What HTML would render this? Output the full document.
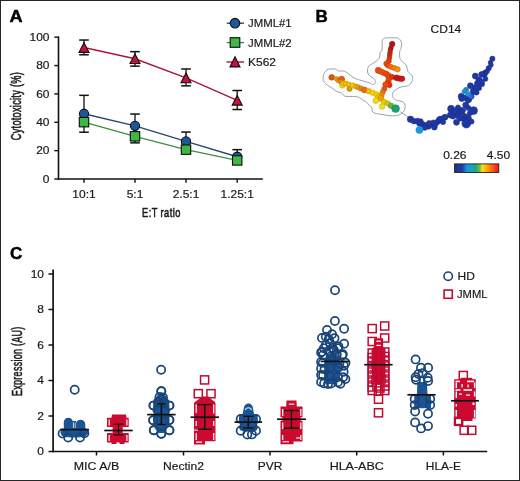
<!DOCTYPE html>
<html><head><meta charset="utf-8"><style>
html,body{margin:0;padding:0;background:#fff;}
svg{display:block;will-change:transform;}
text{font-family:"Liberation Sans", sans-serif;}
</style></head><body>
<svg width="520" height="481" viewBox="0 0 520 481">
<rect width="520" height="481" fill="#fff"/>
<path d="M382.20,41.00 C382.45,39.13 382.87,39.30 383.50,38.80 C384.13,38.30 383.82,38.15 386.00,38.00 C388.18,37.85 394.27,37.62 396.60,37.90 C398.93,38.18 399.17,38.87 400.00,39.70 C400.83,40.53 401.43,41.43 401.60,42.90 C401.77,44.37 401.32,47.05 401.00,48.50 C400.68,49.95 399.87,49.93 399.70,51.60 C399.53,53.27 399.47,56.73 400.00,58.50 C400.53,60.27 401.82,61.03 402.90,62.20 C403.98,63.37 405.67,63.97 406.50,65.50 C407.33,67.03 407.03,69.80 407.90,71.40 C408.77,73.00 410.92,73.78 411.70,75.10 C412.48,76.42 412.83,77.82 412.60,79.30 C412.37,80.78 411.15,82.90 410.30,84.00 C409.45,85.10 409.22,85.35 407.50,85.90 C405.78,86.45 402.03,86.60 400.00,87.30 C397.97,88.00 396.52,89.08 395.30,90.10 C394.08,91.12 393.08,92.17 392.70,93.40 C392.32,94.63 392.37,96.37 393.00,97.50 C393.63,98.63 394.95,99.52 396.50,100.20 C398.05,100.88 400.93,100.97 402.30,101.60 C403.67,102.23 404.30,102.63 404.70,104.00 C405.10,105.37 405.27,108.20 404.70,109.80 C404.13,111.40 402.67,112.63 401.30,113.60 C399.93,114.57 398.58,115.27 396.50,115.60 C394.42,115.93 391.05,115.77 388.80,115.60 C386.55,115.43 385.08,114.93 383.00,114.60 C380.92,114.27 378.05,114.08 376.30,113.60 C374.55,113.12 373.22,112.58 372.50,111.70 C371.78,110.82 372.48,109.33 372.00,108.30 C371.52,107.27 370.63,106.62 369.60,105.50 C368.57,104.38 367.03,102.58 365.80,101.60 C364.57,100.62 363.20,100.25 362.20,99.60 C361.20,98.95 360.97,98.22 359.80,97.70 C358.63,97.18 356.87,96.70 355.20,96.50 C353.53,96.30 351.53,96.55 349.80,96.50 C348.07,96.45 346.20,96.77 344.80,96.20 C343.40,95.63 342.80,93.92 341.40,93.10 C340.00,92.28 337.97,92.15 336.40,91.30 C334.83,90.45 333.58,89.08 332.00,88.00 C330.42,86.92 328.35,86.07 326.90,84.80 C325.45,83.53 323.85,82.12 323.30,80.40 C322.75,78.68 323.23,75.98 323.60,74.50 C323.97,73.02 324.77,72.37 325.50,71.50 C326.23,70.63 326.30,69.70 328.00,69.30 C329.70,68.90 334.00,68.83 335.70,69.10 C337.40,69.37 336.73,70.55 338.20,70.90 C339.67,71.25 342.70,70.65 344.50,71.20 C346.30,71.75 347.58,73.18 349.00,74.20 C350.42,75.22 351.45,76.40 353.00,77.30 C354.55,78.20 356.43,78.94 358.30,79.60 C360.17,80.26 362.32,80.70 364.20,81.25 C366.08,81.80 368.15,82.34 369.60,82.90 C371.05,83.46 371.93,84.73 372.90,84.60 C373.87,84.47 375.18,83.07 375.40,82.10 C375.62,81.12 375.17,79.80 374.20,78.75 C373.23,77.70 370.72,76.92 369.60,75.80 C368.48,74.67 367.72,73.52 367.50,72.00 C367.28,70.48 367.60,68.00 368.30,66.70 C369.00,65.40 370.30,65.18 371.70,64.20 C373.10,63.22 375.38,61.92 376.70,60.80 C378.02,59.68 379.05,58.88 379.60,57.50 C380.15,56.12 379.60,53.75 380.00,52.50 C380.40,51.25 381.63,51.92 382.00,50.00 C382.37,48.08 381.95,42.87 382.20,41.00 Z" fill="#fcfdff" stroke="#9a9da6" stroke-width="0.95"/>
<line x1="400.5" y1="111.8" x2="409" y2="117.5" stroke="#9a9da6" stroke-width="0.95"/>
<circle cx="392.2" cy="44.1" r="2.75" fill="#b80f22" stroke="#930c1b" stroke-width="0.6"/>
<circle cx="391" cy="47.9" r="2.35" fill="#b01a12" stroke="#8c140e" stroke-width="0.6"/>
<circle cx="390.4" cy="50" r="2.35" fill="#b82010" stroke="#93190c" stroke-width="0.6"/>
<circle cx="390" cy="52.9" r="2.35" fill="#c02a10" stroke="#99210c" stroke-width="0.6"/>
<circle cx="389.7" cy="55" r="2.35" fill="#c83010" stroke="#a0260c" stroke-width="0.6"/>
<circle cx="389.4" cy="57.9" r="2.35" fill="#d03810" stroke="#a62c0c" stroke-width="0.6"/>
<circle cx="388.8" cy="61" r="2.55" fill="#e04010" stroke="#b3330c" stroke-width="0.6"/>
<circle cx="386.5" cy="63.8" r="2.75" fill="#f04a08" stroke="#c03b06" stroke-width="0.6"/>
<circle cx="388" cy="65.5" r="2.55" fill="#f04a08" stroke="#c03b06" stroke-width="0.6"/>
<circle cx="391" cy="66.9" r="2.55" fill="#f07010" stroke="#c0590c" stroke-width="0.6"/>
<circle cx="394.3" cy="68" r="2.55" fill="#f08010" stroke="#c0660c" stroke-width="0.6"/>
<circle cx="397.5" cy="69.3" r="2.75" fill="#ef9018" stroke="#bf7313" stroke-width="0.6"/>
<circle cx="378.3" cy="70.4" r="3.05" fill="#f04810" stroke="#c0390c" stroke-width="0.6"/>
<circle cx="381" cy="71.6" r="2.75" fill="#f05010" stroke="#c0400c" stroke-width="0.6"/>
<circle cx="383.5" cy="72.7" r="2.75" fill="#f05010" stroke="#c0400c" stroke-width="0.6"/>
<circle cx="386.2" cy="73.8" r="2.75" fill="#f04a08" stroke="#c03b06" stroke-width="0.6"/>
<circle cx="388.2" cy="75.4" r="2.85" fill="#f04808" stroke="#c03906" stroke-width="0.6"/>
<circle cx="389" cy="77.7" r="2.85" fill="#f04808" stroke="#c03906" stroke-width="0.6"/>
<circle cx="392" cy="76.9" r="2.55" fill="#e03510" stroke="#b32a0c" stroke-width="0.6"/>
<circle cx="388.5" cy="80.8" r="2.75" fill="#f04808" stroke="#c03906" stroke-width="0.6"/>
<circle cx="387.8" cy="83.1" r="2.75" fill="#f04000" stroke="#c03300" stroke-width="0.6"/>
<circle cx="389.3" cy="85" r="2.75" fill="#e83008" stroke="#b92606" stroke-width="0.6"/>
<circle cx="385.5" cy="84.5" r="2.75" fill="#f04a00" stroke="#c03b00" stroke-width="0.6"/>
<circle cx="396.5" cy="77.8" r="2.85" fill="#c01818" stroke="#991313" stroke-width="0.6"/>
<circle cx="399.5" cy="78.6" r="2.75" fill="#c81a14" stroke="#a01410" stroke-width="0.6"/>
<circle cx="402" cy="78.7" r="2.75" fill="#c81a14" stroke="#a01410" stroke-width="0.6"/>
<circle cx="384.3" cy="88.9" r="2.55" fill="#e85010" stroke="#b9400c" stroke-width="0.6"/>
<circle cx="382.8" cy="92" r="2.55" fill="#f07010" stroke="#c0590c" stroke-width="0.6"/>
<circle cx="381.6" cy="95.1" r="2.55" fill="#f09010" stroke="#c0730c" stroke-width="0.6"/>
<circle cx="331.7" cy="77.3" r="2.85" fill="#d85a10" stroke="#ac480c" stroke-width="0.6"/>
<circle cx="336.6" cy="78.9" r="2.35" fill="#e8a020" stroke="#b98019" stroke-width="0.6"/>
<circle cx="338.3" cy="80.4" r="2.35" fill="#f09010" stroke="#c0730c" stroke-width="0.6"/>
<circle cx="341.6" cy="79.2" r="3.05" fill="#e06008" stroke="#b34c06" stroke-width="0.6"/>
<circle cx="341" cy="81.8" r="2.55" fill="#f08010" stroke="#c0660c" stroke-width="0.6"/>
<circle cx="342.3" cy="85.3" r="2.85" fill="#f0d810" stroke="#c0ac0c" stroke-width="0.6"/>
<circle cx="343.5" cy="83.5" r="2.55" fill="#f0c010" stroke="#c0990c" stroke-width="0.6"/>
<circle cx="346" cy="83.6" r="2.55" fill="#f0c000" stroke="#c09900" stroke-width="0.6"/>
<circle cx="349" cy="84.6" r="2.55" fill="#f0c000" stroke="#c09900" stroke-width="0.6"/>
<circle cx="349.5" cy="88.8" r="2.65" fill="#d0a010" stroke="#a6800c" stroke-width="0.6"/>
<circle cx="352.9" cy="85.4" r="2.55" fill="#f0d000" stroke="#c0a600" stroke-width="0.6"/>
<circle cx="356" cy="86.5" r="2.55" fill="#f0b010" stroke="#c08c0c" stroke-width="0.6"/>
<circle cx="358.3" cy="87.3" r="2.55" fill="#f0a010" stroke="#c0800c" stroke-width="0.6"/>
<circle cx="361" cy="88.5" r="2.55" fill="#f08010" stroke="#c0660c" stroke-width="0.6"/>
<circle cx="364.5" cy="89.9" r="2.95" fill="#e87010" stroke="#b9590c" stroke-width="0.6"/>
<circle cx="368.9" cy="91.2" r="2.65" fill="#f8c000" stroke="#c69900" stroke-width="0.6"/>
<circle cx="372.8" cy="92.8" r="2.65" fill="#f8d200" stroke="#c6a800" stroke-width="0.6"/>
<circle cx="376.6" cy="94.3" r="2.65" fill="#f8d000" stroke="#c6a600" stroke-width="0.6"/>
<circle cx="378.2" cy="97.4" r="2.75" fill="#f8c400" stroke="#c69c00" stroke-width="0.6"/>
<circle cx="380.8" cy="98.2" r="3.05" fill="#f0a000" stroke="#c08000" stroke-width="0.6"/>
<circle cx="375.8" cy="100.6" r="2.85" fill="#f0e000" stroke="#c0b300" stroke-width="0.6"/>
<circle cx="384" cy="102" r="2.75" fill="#e8d000" stroke="#b9a600" stroke-width="0.6"/>
<circle cx="387.6" cy="103.3" r="2.65" fill="#c8c820" stroke="#a0a019" stroke-width="0.6"/>
<circle cx="382.1" cy="106.6" r="2.75" fill="#f0e010" stroke="#c0b30c" stroke-width="0.6"/>
<circle cx="391" cy="105.8" r="2.75" fill="#70b040" stroke="#598c33" stroke-width="0.6"/>
<circle cx="395.6" cy="108.6" r="3.85" fill="#1fa070" stroke="#188059" stroke-width="0.6"/>
<circle cx="492.4" cy="58.7" r="2.6" fill="#2039a2" stroke="#1b2f8c" stroke-width="0.6"/>
<circle cx="490.5" cy="62.5" r="2.3" fill="#2039a2" stroke="#1b2f8c" stroke-width="0.6"/>
<circle cx="491" cy="65" r="2.3" fill="#2039a2" stroke="#1b2f8c" stroke-width="0.6"/>
<circle cx="488.7" cy="68.2" r="2.6" fill="#2039a2" stroke="#1b2f8c" stroke-width="0.6"/>
<circle cx="487" cy="71.5" r="2.4" fill="#2039a2" stroke="#1b2f8c" stroke-width="0.6"/>
<circle cx="485" cy="72.5" r="2.5" fill="#2039a2" stroke="#1b2f8c" stroke-width="0.6"/>
<circle cx="479" cy="88" r="2.6" fill="#2039a2" stroke="#1b2f8c" stroke-width="0.6"/>
<circle cx="482" cy="84" r="2.6" fill="#2039a2" stroke="#1b2f8c" stroke-width="0.6"/>
<circle cx="485.5" cy="79" r="2.4" fill="#2039a2" stroke="#1b2f8c" stroke-width="0.6"/>
<circle cx="476.5" cy="92.5" r="2.6" fill="#2039a2" stroke="#1b2f8c" stroke-width="0.6"/>
<circle cx="484.5" cy="74.5" r="2.8" fill="#2039a2" stroke="#1b2f8c" stroke-width="0.6"/>
<circle cx="481.7" cy="74.4" r="3" fill="#2039a2" stroke="#1b2f8c" stroke-width="0.6"/>
<circle cx="475.3" cy="76.1" r="3" fill="#2039a2" stroke="#1b2f8c" stroke-width="0.6"/>
<circle cx="478.9" cy="80" r="3" fill="#2039a2" stroke="#1b2f8c" stroke-width="0.6"/>
<circle cx="481.7" cy="81.5" r="2.6" fill="#2039a2" stroke="#1b2f8c" stroke-width="0.6"/>
<circle cx="477.4" cy="83.5" r="3" fill="#2039a2" stroke="#1b2f8c" stroke-width="0.6"/>
<circle cx="470.4" cy="85.7" r="3" fill="#2039a2" stroke="#1b2f8c" stroke-width="0.6"/>
<circle cx="475.3" cy="87.8" r="3" fill="#2039a2" stroke="#1b2f8c" stroke-width="0.6"/>
<circle cx="473.2" cy="91.3" r="3" fill="#2039a2" stroke="#1b2f8c" stroke-width="0.6"/>
<circle cx="461.2" cy="96.3" r="3" fill="#2039a2" stroke="#1b2f8c" stroke-width="0.6"/>
<circle cx="471.1" cy="96.3" r="3" fill="#2039a2" stroke="#1b2f8c" stroke-width="0.6"/>
<circle cx="466.1" cy="97.7" r="3" fill="#2039a2" stroke="#1b2f8c" stroke-width="0.6"/>
<circle cx="469" cy="99.5" r="2.8" fill="#2039a2" stroke="#1b2f8c" stroke-width="0.6"/>
<circle cx="461.8" cy="98.6" r="3" fill="#2039a2" stroke="#1b2f8c" stroke-width="0.6"/>
<circle cx="468" cy="100.5" r="2.5" fill="#2039a2" stroke="#1b2f8c" stroke-width="0.6"/>
<circle cx="465.7" cy="105" r="3" fill="#2039a2" stroke="#1b2f8c" stroke-width="0.6"/>
<circle cx="468.4" cy="108" r="2.6" fill="#2039a2" stroke="#1b2f8c" stroke-width="0.6"/>
<circle cx="473.6" cy="110.6" r="3.9" fill="#2039a2" stroke="#1b2f8c" stroke-width="0.6"/>
<circle cx="460.3" cy="110.4" r="3" fill="#2039a2" stroke="#1b2f8c" stroke-width="0.6"/>
<circle cx="451.1" cy="108.8" r="3.5" fill="#2039a2" stroke="#1b2f8c" stroke-width="0.6"/>
<circle cx="456.5" cy="113.8" r="3.5" fill="#2039a2" stroke="#1b2f8c" stroke-width="0.6"/>
<circle cx="462.6" cy="115" r="3" fill="#2039a2" stroke="#1b2f8c" stroke-width="0.6"/>
<circle cx="466.5" cy="116.5" r="2.6" fill="#2039a2" stroke="#1b2f8c" stroke-width="0.6"/>
<circle cx="468.8" cy="118" r="2.6" fill="#2039a2" stroke="#1b2f8c" stroke-width="0.6"/>
<circle cx="464.2" cy="119.6" r="2.6" fill="#2039a2" stroke="#1b2f8c" stroke-width="0.6"/>
<circle cx="456.5" cy="122.3" r="3" fill="#2039a2" stroke="#1b2f8c" stroke-width="0.6"/>
<circle cx="466.3" cy="123.6" r="4.4" fill="#2039a2" stroke="#1b2f8c" stroke-width="0.6"/>
<circle cx="450.3" cy="115" r="3" fill="#2039a2" stroke="#1b2f8c" stroke-width="0.6"/>
<circle cx="444.9" cy="117.3" r="3" fill="#2039a2" stroke="#1b2f8c" stroke-width="0.6"/>
<circle cx="439.5" cy="119.6" r="3" fill="#2039a2" stroke="#1b2f8c" stroke-width="0.6"/>
<circle cx="453" cy="116.5" r="2.6" fill="#2039a2" stroke="#1b2f8c" stroke-width="0.6"/>
<circle cx="458" cy="116" r="2.8" fill="#2039a2" stroke="#1b2f8c" stroke-width="0.6"/>
<circle cx="460.5" cy="118.5" r="2.6" fill="#2039a2" stroke="#1b2f8c" stroke-width="0.6"/>
<circle cx="463" cy="110" r="2.6" fill="#2039a2" stroke="#1b2f8c" stroke-width="0.6"/>
<circle cx="470" cy="113" r="2.6" fill="#2039a2" stroke="#1b2f8c" stroke-width="0.6"/>
<circle cx="458" cy="107.5" r="2.6" fill="#2039a2" stroke="#1b2f8c" stroke-width="0.6"/>
<circle cx="454" cy="111" r="3" fill="#2039a2" stroke="#1b2f8c" stroke-width="0.6"/>
<circle cx="471.5" cy="121.5" r="2.6" fill="#2039a2" stroke="#1b2f8c" stroke-width="0.6"/>
<circle cx="410.5" cy="119.3" r="3.2" fill="#2039a2" stroke="#1b2f8c" stroke-width="0.6"/>
<circle cx="414" cy="121.2" r="2.8" fill="#2039a2" stroke="#1b2f8c" stroke-width="0.6"/>
<circle cx="417.5" cy="121" r="2.8" fill="#2039a2" stroke="#1b2f8c" stroke-width="0.6"/>
<circle cx="420.5" cy="121.5" r="2.8" fill="#2039a2" stroke="#1b2f8c" stroke-width="0.6"/>
<circle cx="419.4" cy="123.5" r="2.8" fill="#2039a2" stroke="#1b2f8c" stroke-width="0.6"/>
<circle cx="423" cy="124.5" r="2.8" fill="#2039a2" stroke="#1b2f8c" stroke-width="0.6"/>
<circle cx="426" cy="125.5" r="2.8" fill="#2039a2" stroke="#1b2f8c" stroke-width="0.6"/>
<circle cx="428.5" cy="126.5" r="2.8" fill="#2039a2" stroke="#1b2f8c" stroke-width="0.6"/>
<circle cx="431" cy="124" r="3.0" fill="#2039a2" stroke="#1b2f8c" stroke-width="0.6"/>
<circle cx="434.4" cy="127.3" r="2.8" fill="#2039a2" stroke="#1b2f8c" stroke-width="0.6"/>
<circle cx="435.5" cy="123.8" r="2.8" fill="#2039a2" stroke="#1b2f8c" stroke-width="0.6"/>
<circle cx="438" cy="121.5" r="2.8" fill="#2039a2" stroke="#1b2f8c" stroke-width="0.6"/>
<circle cx="441.3" cy="119.2" r="3.2" fill="#2039a2" stroke="#1b2f8c" stroke-width="0.6"/>
<circle cx="422.5" cy="126.5" r="2.6" fill="#2039a2" stroke="#1b2f8c" stroke-width="0.6"/>
<circle cx="424.8" cy="127.7" r="2.6" fill="#2039a2" stroke="#1b2f8c" stroke-width="0.6"/>
<circle cx="433.5" cy="122.5" r="2.6" fill="#2039a2" stroke="#1b2f8c" stroke-width="0.6"/>
<circle cx="429" cy="123" r="2.5" fill="#2039a2" stroke="#1b2f8c" stroke-width="0.6"/>
<circle cx="443" cy="122" r="2.6" fill="#2039a2" stroke="#1b2f8c" stroke-width="0.6"/>
<circle cx="466.1" cy="89.9" r="2.8" fill="#2080c8"/>
<circle cx="464.4" cy="91.6" r="2.6" fill="#1a92c0"/>
<circle cx="468.3" cy="94.1" r="2.6" fill="#2a8ae0"/>
<circle cx="471" cy="96.5" r="2.3" fill="#2a70d0"/>
<circle cx="419.4" cy="130" r="3.8" fill="#1a98e0"/>
<defs><linearGradient id="jet" x1="0" x2="1" y1="0" y2="0"><stop offset="0" stop-color="#1f2f8f"/><stop offset="0.18" stop-color="#22409f"/><stop offset="0.27" stop-color="#1c8ee0"/><stop offset="0.36" stop-color="#17a6c0"/><stop offset="0.47" stop-color="#1aa58c"/><stop offset="0.56" stop-color="#6cb84a"/><stop offset="0.63" stop-color="#f5e21e"/><stop offset="0.72" stop-color="#ffad08"/><stop offset="0.84" stop-color="#fb6a12"/><stop offset="0.95" stop-color="#ef2a1e"/><stop offset="1" stop-color="#e02020"/></linearGradient></defs>
<rect x="454.6" y="163.9" width="44.2" height="8.6" fill="url(#jet)" stroke="#222" stroke-width="0.9"/>
<text transform="translate(430.6,32.6) scale(1.13,1)" font-size="10.6" font-weight="400" text-anchor="start" fill="#1a1a1a" stroke="#1a1a1a" stroke-width="0.18">CD14</text>
<text transform="translate(443.2,158.6) scale(1.13,1)" font-size="10.6" font-weight="400" text-anchor="start" fill="#1a1a1a" stroke="#1a1a1a" stroke-width="0.18">0.26</text>
<text transform="translate(486.8,158.6) scale(1.13,1)" font-size="10.6" font-weight="400" text-anchor="start" fill="#1a1a1a" stroke="#1a1a1a" stroke-width="0.18">4.50</text>
<rect x="0.5" y="0.5" width="519" height="480" fill="none" stroke="#262626" stroke-width="1"/>
<text transform="translate(9.4,21.8) scale(1.07,1)" font-size="17" font-weight="700" text-anchor="start" fill="#000" stroke="#000" stroke-width="0.45" letter-spacing="0">A</text>
<text transform="translate(315.6,21.8) scale(1.0,1)" font-size="17" font-weight="700" text-anchor="start" fill="#000" stroke="#000" stroke-width="0.45" letter-spacing="0">B</text>
<text transform="translate(10.1,258.8) scale(1.0,1)" font-size="17" font-weight="700" text-anchor="start" fill="#000" stroke="#000" stroke-width="0.45" letter-spacing="0">C</text>
<line x1="58.5" y1="36.400000000000006" x2="58.5" y2="179.8" stroke="#111" stroke-width="1.6" stroke-linecap="butt"/>
<line x1="57.7" y1="179.0" x2="262.8" y2="179.0" stroke="#111" stroke-width="1.6" stroke-linecap="butt"/>
<line x1="54.3" y1="179.0" x2="58.5" y2="179.0" stroke="#111" stroke-width="1.4" stroke-linecap="butt"/>
<text transform="translate(49.5,182.7) scale(1.13,1)" font-size="10.6" font-weight="400" text-anchor="end" fill="#1a1a1a" stroke="#1a1a1a" stroke-width="0.18" letter-spacing="0">0</text>
<line x1="54.3" y1="150.64" x2="58.5" y2="150.64" stroke="#111" stroke-width="1.4" stroke-linecap="butt"/>
<text transform="translate(49.5,154.33999999999997) scale(1.13,1)" font-size="10.6" font-weight="400" text-anchor="end" fill="#1a1a1a" stroke="#1a1a1a" stroke-width="0.18" letter-spacing="0">20</text>
<line x1="54.3" y1="122.28" x2="58.5" y2="122.28" stroke="#111" stroke-width="1.4" stroke-linecap="butt"/>
<text transform="translate(49.5,125.98) scale(1.13,1)" font-size="10.6" font-weight="400" text-anchor="end" fill="#1a1a1a" stroke="#1a1a1a" stroke-width="0.18" letter-spacing="0">40</text>
<line x1="54.3" y1="93.92" x2="58.5" y2="93.92" stroke="#111" stroke-width="1.4" stroke-linecap="butt"/>
<text transform="translate(49.5,97.62) scale(1.13,1)" font-size="10.6" font-weight="400" text-anchor="end" fill="#1a1a1a" stroke="#1a1a1a" stroke-width="0.18" letter-spacing="0">60</text>
<line x1="54.3" y1="65.56" x2="58.5" y2="65.56" stroke="#111" stroke-width="1.4" stroke-linecap="butt"/>
<text transform="translate(49.5,69.26) scale(1.13,1)" font-size="10.6" font-weight="400" text-anchor="end" fill="#1a1a1a" stroke="#1a1a1a" stroke-width="0.18" letter-spacing="0">80</text>
<line x1="54.3" y1="37.19999999999999" x2="58.5" y2="37.19999999999999" stroke="#111" stroke-width="1.4" stroke-linecap="butt"/>
<text transform="translate(49.5,40.89999999999999) scale(1.13,1)" font-size="10.6" font-weight="400" text-anchor="end" fill="#1a1a1a" stroke="#1a1a1a" stroke-width="0.18" letter-spacing="0">100</text>
<line x1="84" y1="179.0" x2="84" y2="182.8" stroke="#111" stroke-width="1.4" stroke-linecap="butt"/>
<text transform="translate(84,197.6) scale(1.13,1)" font-size="10.6" font-weight="400" text-anchor="middle" fill="#1a1a1a" stroke="#1a1a1a" stroke-width="0.18" letter-spacing="0">10:1</text>
<line x1="135" y1="179.0" x2="135" y2="182.8" stroke="#111" stroke-width="1.4" stroke-linecap="butt"/>
<text transform="translate(135,197.6) scale(1.13,1)" font-size="10.6" font-weight="400" text-anchor="middle" fill="#1a1a1a" stroke="#1a1a1a" stroke-width="0.18" letter-spacing="0">5:1</text>
<line x1="186" y1="179.0" x2="186" y2="182.8" stroke="#111" stroke-width="1.4" stroke-linecap="butt"/>
<text transform="translate(186,197.6) scale(1.13,1)" font-size="10.6" font-weight="400" text-anchor="middle" fill="#1a1a1a" stroke="#1a1a1a" stroke-width="0.18" letter-spacing="0">2.5:1</text>
<line x1="237.2" y1="179.0" x2="237.2" y2="182.8" stroke="#111" stroke-width="1.4" stroke-linecap="butt"/>
<text transform="translate(237.2,197.6) scale(1.13,1)" font-size="10.6" font-weight="400" text-anchor="middle" fill="#1a1a1a" stroke="#1a1a1a" stroke-width="0.18" letter-spacing="0">1.25:1</text>
<text transform="translate(161.4,217.0) scale(0.73,1)" font-size="12.7" font-weight="400" text-anchor="middle" fill="#1a1a1a" stroke="#1a1a1a" stroke-width="0.6" letter-spacing="0.6">E:T ratio</text>
<text transform="translate(21.2,106.1) rotate(-90) scale(0.745,1.15)" font-size="12.4" font-weight="400" text-anchor="middle" fill="#1a1a1a" stroke="#1a1a1a" stroke-width="0.5" letter-spacing="0.35">Cytotoxicity (%)</text>
<line x1="84" y1="113.77199999999999" x2="84" y2="95.338" stroke="#111" stroke-width="1.3" stroke-linecap="butt"/>
<line x1="79.2" y1="95.338" x2="88.8" y2="95.338" stroke="#111" stroke-width="1.5" stroke-linecap="butt"/>
<line x1="84" y1="122.1382" x2="84" y2="132.206" stroke="#111" stroke-width="1.3" stroke-linecap="butt"/>
<line x1="79.2" y1="132.206" x2="88.8" y2="132.206" stroke="#111" stroke-width="1.5" stroke-linecap="butt"/>
<line x1="84" y1="47.5514" x2="84" y2="40.03599999999997" stroke="#111" stroke-width="1.3" stroke-linecap="butt"/>
<line x1="79.2" y1="40.03599999999997" x2="88.8" y2="40.03599999999997" stroke="#111" stroke-width="1.5" stroke-linecap="butt"/>
<line x1="84" y1="47.5514" x2="84" y2="54.783199999999994" stroke="#111" stroke-width="1.3" stroke-linecap="butt"/>
<line x1="79.2" y1="54.783199999999994" x2="88.8" y2="54.783199999999994" stroke="#111" stroke-width="1.5" stroke-linecap="butt"/>
<line x1="135" y1="125.825" x2="135" y2="114.0556" stroke="#111" stroke-width="1.3" stroke-linecap="butt"/>
<line x1="130.2" y1="114.0556" x2="139.8" y2="114.0556" stroke="#111" stroke-width="1.5" stroke-linecap="butt"/>
<line x1="135" y1="136.3182" x2="135" y2="142.841" stroke="#111" stroke-width="1.3" stroke-linecap="butt"/>
<line x1="130.2" y1="142.841" x2="139.8" y2="142.841" stroke="#111" stroke-width="1.5" stroke-linecap="butt"/>
<line x1="135" y1="58.75359999999999" x2="135" y2="51.66359999999999" stroke="#111" stroke-width="1.3" stroke-linecap="butt"/>
<line x1="130.2" y1="51.66359999999999" x2="139.8" y2="51.66359999999999" stroke="#111" stroke-width="1.5" stroke-linecap="butt"/>
<line x1="135" y1="58.75359999999999" x2="135" y2="66.12719999999999" stroke="#111" stroke-width="1.3" stroke-linecap="butt"/>
<line x1="130.2" y1="66.12719999999999" x2="139.8" y2="66.12719999999999" stroke="#111" stroke-width="1.5" stroke-linecap="butt"/>
<line x1="186" y1="141.423" x2="186" y2="132.0642" stroke="#111" stroke-width="1.3" stroke-linecap="butt"/>
<line x1="181.2" y1="132.0642" x2="190.8" y2="132.0642" stroke="#111" stroke-width="1.5" stroke-linecap="butt"/>
<line x1="186" y1="77.89659999999999" x2="186" y2="68.9632" stroke="#111" stroke-width="1.3" stroke-linecap="butt"/>
<line x1="181.2" y1="68.9632" x2="190.8" y2="68.9632" stroke="#111" stroke-width="1.5" stroke-linecap="butt"/>
<line x1="186" y1="77.89659999999999" x2="186" y2="85.83739999999997" stroke="#111" stroke-width="1.3" stroke-linecap="butt"/>
<line x1="181.2" y1="85.83739999999997" x2="190.8" y2="85.83739999999997" stroke="#111" stroke-width="1.5" stroke-linecap="butt"/>
<line x1="237.2" y1="156.7374" x2="237.2" y2="149.6474" stroke="#111" stroke-width="1.3" stroke-linecap="butt"/>
<line x1="232.39999999999998" y1="149.6474" x2="242.0" y2="149.6474" stroke="#111" stroke-width="1.5" stroke-linecap="butt"/>
<line x1="237.2" y1="100.30099999999999" x2="237.2" y2="90.5168" stroke="#111" stroke-width="1.3" stroke-linecap="butt"/>
<line x1="232.39999999999998" y1="90.5168" x2="242.0" y2="90.5168" stroke="#111" stroke-width="1.5" stroke-linecap="butt"/>
<line x1="237.2" y1="100.30099999999999" x2="237.2" y2="109.51799999999999" stroke="#111" stroke-width="1.3" stroke-linecap="butt"/>
<line x1="232.39999999999998" y1="109.51799999999999" x2="242.0" y2="109.51799999999999" stroke="#111" stroke-width="1.5" stroke-linecap="butt"/>
<polyline points="84,113.77 135,125.83 186,141.42 237.2,156.74" fill="none" stroke="#2b4868" stroke-width="1.4"/>
<polyline points="84,122.14 135,136.32 186,149.65 237.2,160.42" fill="none" stroke="#3f8f3f" stroke-width="1.4"/>
<polyline points="84,47.55 135,58.75 186,77.90 237.2,100.30" fill="none" stroke="#a8163c" stroke-width="1.4"/>
<circle cx="84" cy="113.77199999999999" r="4.6" fill="#1d5799" stroke="#0b0b14" stroke-width="1.1"/>
<circle cx="135" cy="125.825" r="4.6" fill="#1d5799" stroke="#0b0b14" stroke-width="1.1"/>
<circle cx="186" cy="141.423" r="4.6" fill="#1d5799" stroke="#0b0b14" stroke-width="1.1"/>
<circle cx="237.2" cy="156.7374" r="4.6" fill="#1d5799" stroke="#0b0b14" stroke-width="1.1"/>
<rect x="79.3" y="117.4382" width="9.4" height="9.4" fill="#3cb843" stroke="#0b0b14" stroke-width="1.1"/>
<rect x="130.3" y="131.6182" width="9.4" height="9.4" fill="#3cb843" stroke="#0b0b14" stroke-width="1.1"/>
<rect x="181.3" y="144.94740000000002" width="9.4" height="9.4" fill="#3cb843" stroke="#0b0b14" stroke-width="1.1"/>
<rect x="232.5" y="155.7242" width="9.4" height="9.4" fill="#3cb843" stroke="#0b0b14" stroke-width="1.1"/>
<path d="M84,42.751400000000004 L89.0,52.3514 L79.0,52.3514 Z" fill="#c8103a" stroke="#0b0b14" stroke-width="1.1" stroke-linejoin="miter"/>
<path d="M135,53.953599999999994 L140.0,63.55359999999999 L130.0,63.55359999999999 Z" fill="#c8103a" stroke="#0b0b14" stroke-width="1.1" stroke-linejoin="miter"/>
<path d="M186,73.0966 L191.0,82.69659999999999 L181.0,82.69659999999999 Z" fill="#c8103a" stroke="#0b0b14" stroke-width="1.1" stroke-linejoin="miter"/>
<path d="M237.2,95.50099999999999 L242.2,105.10099999999998 L232.2,105.10099999999998 Z" fill="#c8103a" stroke="#0b0b14" stroke-width="1.1" stroke-linejoin="miter"/>
<line x1="226.8" y1="23.2" x2="244" y2="23.2" stroke="#2b4868" stroke-width="1.4" stroke-linecap="butt"/>
<circle cx="235" cy="23.2" r="4.8" fill="#1d5799" stroke="#0b0b14" stroke-width="1.1"/>
<text transform="translate(248.0,27.0) scale(1.075,1)" font-size="10.6" font-weight="400" text-anchor="start" fill="#1a1a1a" stroke="#1a1a1a" stroke-width="0.18" letter-spacing="0">JMML#1</text>
<line x1="226.8" y1="42.6" x2="244" y2="42.6" stroke="#3f8f3f" stroke-width="1.4" stroke-linecap="butt"/>
<rect x="230.2" y="37.7" width="9.6" height="9.6" fill="#3cb843" stroke="#0b0b14" stroke-width="1.1"/>
<text transform="translate(248.0,46.5) scale(1.075,1)" font-size="10.6" font-weight="400" text-anchor="start" fill="#1a1a1a" stroke="#1a1a1a" stroke-width="0.18" letter-spacing="0">JMML#2</text>
<line x1="226.5" y1="62.0" x2="244" y2="62.0" stroke="#a8163c" stroke-width="1.4" stroke-linecap="butt"/>
<path d="M235,56.699999999999996 L240.0,66.89999999999999 L230.0,66.89999999999999 Z" fill="#c8103a" stroke="#0b0b14" stroke-width="1.1" stroke-linejoin="miter"/>
<text transform="translate(248.0,66.0) scale(1.13,1)" font-size="10.6" font-weight="400" text-anchor="start" fill="#1a1a1a" stroke="#1a1a1a" stroke-width="0.18" letter-spacing="0">K562</text>
<line x1="53.1" y1="269.5" x2="53.1" y2="452.3" stroke="#111" stroke-width="1.7" stroke-linecap="butt"/>
<line x1="52.300000000000004" y1="451.5" x2="487.2" y2="451.5" stroke="#111" stroke-width="1.7" stroke-linecap="butt"/>
<line x1="48.5" y1="451.5" x2="53.1" y2="451.5" stroke="#111" stroke-width="1.5" stroke-linecap="butt"/>
<text transform="translate(44.0,455.2) scale(1.13,1)" font-size="10.6" font-weight="400" text-anchor="end" fill="#1a1a1a" stroke="#1a1a1a" stroke-width="0.18">0</text>
<line x1="48.5" y1="416.0" x2="53.1" y2="416.0" stroke="#111" stroke-width="1.5" stroke-linecap="butt"/>
<text transform="translate(44.0,419.7) scale(1.13,1)" font-size="10.6" font-weight="400" text-anchor="end" fill="#1a1a1a" stroke="#1a1a1a" stroke-width="0.18">2</text>
<line x1="48.5" y1="380.5" x2="53.1" y2="380.5" stroke="#111" stroke-width="1.5" stroke-linecap="butt"/>
<text transform="translate(44.0,384.2) scale(1.13,1)" font-size="10.6" font-weight="400" text-anchor="end" fill="#1a1a1a" stroke="#1a1a1a" stroke-width="0.18">4</text>
<line x1="48.5" y1="345.0" x2="53.1" y2="345.0" stroke="#111" stroke-width="1.5" stroke-linecap="butt"/>
<text transform="translate(44.0,348.7) scale(1.13,1)" font-size="10.6" font-weight="400" text-anchor="end" fill="#1a1a1a" stroke="#1a1a1a" stroke-width="0.18">6</text>
<line x1="48.5" y1="309.5" x2="53.1" y2="309.5" stroke="#111" stroke-width="1.5" stroke-linecap="butt"/>
<text transform="translate(44.0,313.2) scale(1.13,1)" font-size="10.6" font-weight="400" text-anchor="end" fill="#1a1a1a" stroke="#1a1a1a" stroke-width="0.18">8</text>
<line x1="48.5" y1="274.0" x2="53.1" y2="274.0" stroke="#111" stroke-width="1.5" stroke-linecap="butt"/>
<text transform="translate(44.0,277.7) scale(1.13,1)" font-size="10.6" font-weight="400" text-anchor="end" fill="#1a1a1a" stroke="#1a1a1a" stroke-width="0.18">10</text>
<line x1="96.5" y1="451.5" x2="96.5" y2="455.5" stroke="#111" stroke-width="1.5" stroke-linecap="butt"/>
<text transform="translate(96.5,470.3) scale(1.17,1)" font-size="10.6" font-weight="400" text-anchor="middle" fill="#1a1a1a" stroke="#1a1a1a" stroke-width="0.18">MIC A/B</text>
<line x1="183.5" y1="451.5" x2="183.5" y2="455.5" stroke="#111" stroke-width="1.5" stroke-linecap="butt"/>
<text transform="translate(183.5,470.3) scale(1.14,1)" font-size="10.6" font-weight="400" text-anchor="middle" fill="#1a1a1a" stroke="#1a1a1a" stroke-width="0.18">Nectin2</text>
<line x1="270.0" y1="451.5" x2="270.0" y2="455.5" stroke="#111" stroke-width="1.5" stroke-linecap="butt"/>
<text transform="translate(270.0,470.3) scale(1.13,1)" font-size="10.6" font-weight="400" text-anchor="middle" fill="#1a1a1a" stroke="#1a1a1a" stroke-width="0.18">PVR</text>
<line x1="356.7" y1="451.5" x2="356.7" y2="455.5" stroke="#111" stroke-width="1.5" stroke-linecap="butt"/>
<text transform="translate(356.7,470.3) scale(1.18,1)" font-size="10.6" font-weight="400" text-anchor="middle" fill="#1a1a1a" stroke="#1a1a1a" stroke-width="0.18">HLA-ABC</text>
<line x1="443.4" y1="451.5" x2="443.4" y2="455.5" stroke="#111" stroke-width="1.5" stroke-linecap="butt"/>
<text transform="translate(443.4,470.3) scale(1.13,1)" font-size="10.6" font-weight="400" text-anchor="middle" fill="#1a1a1a" stroke="#1a1a1a" stroke-width="0.18">HLA-E</text>
<text transform="translate(22.0,361.2) rotate(-90) scale(0.728,1.15)" font-size="12.4" font-weight="400" letter-spacing="0.35" text-anchor="middle" fill="#1a1a1a" stroke="#1a1a1a" stroke-width="0.5">Expression (AU)</text>
<path d="M63.8,422.3 A4.55,4.55 0 0 1 72.9,422.3 L72.9,430 L63.8,430 Z" fill="#1b5494"/>
<path d="M75.8,424.4 A4.75,4.75 0 0 1 85.3,424.4 L85.3,430 L75.8,430 Z" fill="#1b5494"/>
<path d="M61,429 L88,429 L88.5,433 L86,436 L83,437 L77,437.5 L71,437.5 L65,437 L62,436 L60.5,433 Z" fill="#1b5494"/>
<circle cx="62.6" cy="433.4" r="4.1" fill="none" stroke="#1a4478" stroke-width="1.7"/>
<circle cx="68.2" cy="437.6" r="4.1" fill="none" stroke="#1a4478" stroke-width="1.7"/>
<circle cx="80.0" cy="437.6" r="4.1" fill="none" stroke="#1a4478" stroke-width="1.7"/>
<circle cx="84.4" cy="433.2" r="4.1" fill="none" stroke="#1a4478" stroke-width="1.7"/>
<circle cx="74.7" cy="389.7" r="4.1" fill="none" stroke="#1a4478" stroke-width="1.7"/>
<rect x="72.5" y="421" width="3.6" height="9" fill="#1b5494"/>
<rect x="73.3" y="422.5" width="0.8" height="5.5" fill="#fff"/>
<rect x="74.9" y="422.5" width="0.6" height="5.5" fill="#fff"/>
<circle cx="161.1" cy="369.7" r="4.1" fill="#fff" stroke="#1a4478" stroke-width="1.7"/>
<circle cx="161.3" cy="391.2" r="4.1" fill="#fff" stroke="#1a4478" stroke-width="1.7"/>
<circle cx="153.5" cy="405.6" r="4.1" fill="#fff" stroke="#1a4478" stroke-width="1.7"/>
<circle cx="169.4" cy="405.6" r="4.1" fill="#fff" stroke="#1a4478" stroke-width="1.7"/>
<circle cx="153.2" cy="420.3" r="4.1" fill="#fff" stroke="#1a4478" stroke-width="1.7"/>
<circle cx="169.4" cy="420.0" r="4.1" fill="#fff" stroke="#1a4478" stroke-width="1.7"/>
<circle cx="153.8" cy="430.3" r="4.1" fill="#fff" stroke="#1a4478" stroke-width="1.7"/>
<circle cx="169.4" cy="430.3" r="4.1" fill="#fff" stroke="#1a4478" stroke-width="1.7"/>
<circle cx="161.3" cy="433.7" r="4.1" fill="#fff" stroke="#1a4478" stroke-width="1.7"/>
<path d="M161.3,393.5 L165.5,395.5 L167.5,399 L169,402 L169.5,408 L168.5,413 L169.5,417 L169,426 L166,430 L164,433 L158.5,433 L156,430 L153.5,426 L153,417 L154,413 L153,408 L153.5,402 L155.2,399 L157.2,395.5 Z" fill="#1b5494"/>
<circle cx="161.3" cy="391.2" r="4.1" fill="none" stroke="#1a4478" stroke-width="1.7"/>
<circle cx="153.5" cy="405.6" r="4.1" fill="none" stroke="#1a4478" stroke-width="1.7"/>
<circle cx="169.4" cy="405.6" r="4.1" fill="none" stroke="#1a4478" stroke-width="1.7"/>
<circle cx="153.2" cy="420.3" r="4.1" fill="none" stroke="#1a4478" stroke-width="1.7"/>
<circle cx="169.4" cy="420.0" r="4.1" fill="none" stroke="#1a4478" stroke-width="1.7"/>
<circle cx="153.8" cy="430.3" r="4.1" fill="none" stroke="#1a4478" stroke-width="1.7"/>
<circle cx="169.4" cy="430.3" r="4.1" fill="none" stroke="#1a4478" stroke-width="1.7"/>
<circle cx="161.3" cy="433.7" r="4.1" fill="none" stroke="#1a4478" stroke-width="1.7"/>
<circle cx="159.5" cy="397.0" r="4.1" fill="none" stroke="#1a4478" stroke-width="1.7"/>
<circle cx="163.0" cy="397.5" r="4.1" fill="none" stroke="#1a4478" stroke-width="1.7"/>
<circle cx="158.0" cy="402.0" r="4.1" fill="none" stroke="#1a4478" stroke-width="1.7"/>
<circle cx="164.5" cy="402.5" r="4.1" fill="none" stroke="#1a4478" stroke-width="1.7"/>
<circle cx="157.5" cy="410.0" r="4.1" fill="none" stroke="#1a4478" stroke-width="1.7"/>
<circle cx="165.0" cy="411.0" r="4.1" fill="none" stroke="#1a4478" stroke-width="1.7"/>
<circle cx="158.0" cy="420.0" r="4.1" fill="none" stroke="#1a4478" stroke-width="1.7"/>
<circle cx="164.5" cy="421.0" r="4.1" fill="none" stroke="#1a4478" stroke-width="1.7"/>
<path d="M243.8,408.2 A4.6,4.6 0 0 1 253,408.2 L254,414 L257.6,415 L258,421 L255.5,424 L258,427 L257,430 L253,432 L249.5,431 L245,432 L240,430 L238.8,427 L241,424 L238.8,421 L239.2,415 L242.6,414 Z" fill="#1b5494"/>
<circle cx="240.7" cy="418.9" r="4.1" fill="none" stroke="#1a4478" stroke-width="1.7"/>
<circle cx="256.0" cy="418.9" r="4.1" fill="none" stroke="#1a4478" stroke-width="1.7"/>
<circle cx="240.7" cy="430.8" r="4.1" fill="none" stroke="#1a4478" stroke-width="1.7"/>
<circle cx="256.0" cy="430.8" r="4.1" fill="none" stroke="#1a4478" stroke-width="1.7"/>
<circle cx="247.3" cy="434.6" r="4.1" fill="none" stroke="#1a4478" stroke-width="1.7"/>
<circle cx="251.9" cy="434.4" r="4.1" fill="none" stroke="#1a4478" stroke-width="1.7"/>
<circle cx="244.5" cy="426.0" r="4.1" fill="none" stroke="#1a4478" stroke-width="1.7"/>
<circle cx="252.5" cy="426.0" r="4.1" fill="none" stroke="#1a4478" stroke-width="1.7"/>
<path d="M245.2,410.2 A3.3,3.3 0 0 1 251.6,410.2" fill="none" stroke="#dfeaf5" stroke-width="1.1"/>
<circle cx="335.0" cy="290.2" r="4.1" fill="none" stroke="#1a4478" stroke-width="1.7"/>
<circle cx="334.9" cy="321.0" r="4.1" fill="none" stroke="#1a4478" stroke-width="1.7"/>
<circle cx="344.1" cy="328.8" r="4.1" fill="none" stroke="#1a4478" stroke-width="1.7"/>
<circle cx="327.0" cy="330.0" r="4.1" fill="none" stroke="#1a4478" stroke-width="1.7"/>
<circle cx="332.0" cy="334.2" r="4.1" fill="none" stroke="#1a4478" stroke-width="1.7"/>
<circle cx="334.5" cy="338.3" r="4.1" fill="none" stroke="#1a4478" stroke-width="1.7"/>
<circle cx="322.0" cy="337.9" r="4.1" fill="none" stroke="#1a4478" stroke-width="1.7"/>
<circle cx="325.8" cy="336.7" r="4.1" fill="none" stroke="#1a4478" stroke-width="1.7"/>
<circle cx="328.7" cy="339.2" r="4.1" fill="none" stroke="#1a4478" stroke-width="1.7"/>
<circle cx="344.1" cy="343.8" r="4.1" fill="none" stroke="#1a4478" stroke-width="1.7"/>
<circle cx="322.0" cy="351.7" r="4.1" fill="none" stroke="#1a4478" stroke-width="1.7"/>
<circle cx="328.7" cy="350.8" r="4.1" fill="none" stroke="#1a4478" stroke-width="1.7"/>
<circle cx="334.0" cy="350.8" r="4.1" fill="none" stroke="#1a4478" stroke-width="1.7"/>
<circle cx="321.1" cy="352.6" r="4.1" fill="none" stroke="#1a4478" stroke-width="1.7"/>
<circle cx="321.1" cy="368.6" r="4.1" fill="none" stroke="#1a4478" stroke-width="1.7"/>
<circle cx="321.1" cy="362.0" r="4.1" fill="none" stroke="#1a4478" stroke-width="1.7"/>
<circle cx="321.1" cy="375.0" r="4.1" fill="none" stroke="#1a4478" stroke-width="1.7"/>
<circle cx="342.2" cy="355.3" r="4.1" fill="none" stroke="#1a4478" stroke-width="1.7"/>
<circle cx="344.0" cy="365.8" r="4.1" fill="none" stroke="#1a4478" stroke-width="1.7"/>
<circle cx="343.6" cy="371.8" r="4.1" fill="none" stroke="#1a4478" stroke-width="1.7"/>
<circle cx="343.1" cy="377.3" r="4.1" fill="none" stroke="#1a4478" stroke-width="1.7"/>
<circle cx="345.4" cy="379.1" r="4.1" fill="none" stroke="#1a4478" stroke-width="1.7"/>
<circle cx="340.4" cy="383.7" r="4.1" fill="none" stroke="#1a4478" stroke-width="1.7"/>
<circle cx="328.0" cy="384.1" r="4.1" fill="none" stroke="#1a4478" stroke-width="1.7"/>
<circle cx="321.1" cy="381.9" r="4.1" fill="none" stroke="#1a4478" stroke-width="1.7"/>
<circle cx="342.8" cy="354.2" r="4.1" fill="none" stroke="#1a4478" stroke-width="1.7"/>
<circle cx="345.5" cy="362.7" r="4.1" fill="none" stroke="#1a4478" stroke-width="1.7"/>
<circle cx="338.5" cy="346.5" r="4.1" fill="none" stroke="#1a4478" stroke-width="1.7"/>
<circle cx="333.5" cy="349.5" r="4.1" fill="none" stroke="#1a4478" stroke-width="1.7"/>
<circle cx="326.0" cy="345.0" r="4.1" fill="none" stroke="#1a4478" stroke-width="1.7"/>
<circle cx="330.0" cy="343.0" r="4.1" fill="none" stroke="#1a4478" stroke-width="1.7"/>
<path d="M326,356 L333,354 L339,356 L340,362 L340,372 L339.5,380 L336,384 L327,384 L324.5,380 L324.5,372 L325,362 Z" fill="#1b5494"/>
<circle cx="323.9" cy="348.2" r="4.1" fill="none" stroke="#1a4478" stroke-width="1.7"/>
<circle cx="332.3" cy="347.9" r="4.1" fill="none" stroke="#1a4478" stroke-width="1.7"/>
<circle cx="338.0" cy="348.3" r="4.1" fill="none" stroke="#1a4478" stroke-width="1.7"/>
<circle cx="323.1" cy="355.0" r="4.1" fill="none" stroke="#1a4478" stroke-width="1.7"/>
<circle cx="331.4" cy="355.9" r="4.1" fill="none" stroke="#1a4478" stroke-width="1.7"/>
<circle cx="336.8" cy="354.4" r="4.1" fill="none" stroke="#1a4478" stroke-width="1.7"/>
<circle cx="322.8" cy="362.9" r="4.1" fill="none" stroke="#1a4478" stroke-width="1.7"/>
<circle cx="331.6" cy="360.6" r="4.1" fill="none" stroke="#1a4478" stroke-width="1.7"/>
<circle cx="339.4" cy="363.4" r="4.1" fill="none" stroke="#1a4478" stroke-width="1.7"/>
<circle cx="324.5" cy="369.3" r="4.1" fill="none" stroke="#1a4478" stroke-width="1.7"/>
<circle cx="330.0" cy="367.5" r="4.1" fill="none" stroke="#1a4478" stroke-width="1.7"/>
<circle cx="338.1" cy="367.7" r="4.1" fill="none" stroke="#1a4478" stroke-width="1.7"/>
<circle cx="323.1" cy="375.2" r="4.1" fill="none" stroke="#1a4478" stroke-width="1.7"/>
<circle cx="329.6" cy="375.9" r="4.1" fill="none" stroke="#1a4478" stroke-width="1.7"/>
<circle cx="337.8" cy="377.0" r="4.1" fill="none" stroke="#1a4478" stroke-width="1.7"/>
<circle cx="324.1" cy="383.4" r="4.1" fill="none" stroke="#1a4478" stroke-width="1.7"/>
<circle cx="331.0" cy="383.5" r="4.1" fill="none" stroke="#1a4478" stroke-width="1.7"/>
<circle cx="337.9" cy="382.3" r="4.1" fill="none" stroke="#1a4478" stroke-width="1.7"/>
<path d="M417.3,382 L426.8,382 L427.5,394 L431,395 L431,408.3 L414.2,408.3 L414.2,395 L417,394 Z" fill="#1b5494"/>
<circle cx="415.6" cy="359.4" r="4.1" fill="none" stroke="#1a4478" stroke-width="1.7"/>
<circle cx="421.0" cy="367.8" r="4.1" fill="none" stroke="#1a4478" stroke-width="1.7"/>
<circle cx="428.1" cy="367.8" r="4.1" fill="none" stroke="#1a4478" stroke-width="1.7"/>
<circle cx="418.5" cy="374.0" r="4.1" fill="none" stroke="#1a4478" stroke-width="1.7"/>
<circle cx="415.6" cy="377.3" r="4.1" fill="none" stroke="#1a4478" stroke-width="1.7"/>
<circle cx="416.0" cy="379.8" r="4.1" fill="none" stroke="#1a4478" stroke-width="1.7"/>
<circle cx="427.7" cy="377.8" r="4.1" fill="none" stroke="#1a4478" stroke-width="1.7"/>
<circle cx="428.1" cy="381.0" r="4.1" fill="none" stroke="#1a4478" stroke-width="1.7"/>
<circle cx="422.7" cy="373.2" r="4.1" fill="none" stroke="#1a4478" stroke-width="1.7"/>
<circle cx="414.7" cy="399.1" r="4.1" fill="none" stroke="#1a4478" stroke-width="1.7"/>
<circle cx="414.7" cy="405.1" r="4.1" fill="none" stroke="#1a4478" stroke-width="1.7"/>
<circle cx="430.2" cy="399.1" r="4.1" fill="none" stroke="#1a4478" stroke-width="1.7"/>
<circle cx="430.2" cy="405.1" r="4.1" fill="none" stroke="#1a4478" stroke-width="1.7"/>
<circle cx="415.1" cy="411.5" r="4.1" fill="none" stroke="#1a4478" stroke-width="1.7"/>
<circle cx="428.0" cy="413.8" r="4.1" fill="none" stroke="#1a4478" stroke-width="1.7"/>
<circle cx="415.1" cy="422.4" r="4.1" fill="none" stroke="#1a4478" stroke-width="1.7"/>
<circle cx="421.1" cy="428.4" r="4.1" fill="none" stroke="#1a4478" stroke-width="1.7"/>
<circle cx="428.0" cy="426.1" r="4.1" fill="none" stroke="#1a4478" stroke-width="1.7"/>
<path d="M112,414.4 L126,414.4 L126.5,417.7 L128.7,417.7 L128.7,427.1 L122.7,427.1 L122.7,433 L128.7,433 L128.7,442.4 L124.5,442.4 L124.5,444 L111.5,444 L111.5,442.4 L107,442.4 L107,433 L112.6,433 L112.6,427.1 L107,427.1 L107,417.7 L111.5,417.7 Z" fill="#cc0a30"/>
<rect x="108.6" y="419.5" width="1.2" height="6" fill="#fff"/>
<rect x="126.3" y="419.5" width="1.2" height="6" fill="#fff"/>
<rect x="108.6" y="435" width="1.2" height="6" fill="#fff"/>
<rect x="126.3" y="435" width="1.2" height="6" fill="#fff"/>
<rect x="116.5" y="442.4" width="3" height="1.6" fill="#fff"/>
<rect x="200.55" y="375.85" width="8.1" height="8.1" fill="none" stroke="#c00a32" stroke-width="1.5"/>
<rect x="194.25" y="389.65" width="8.1" height="8.1" fill="none" stroke="#c00a32" stroke-width="1.5"/>
<rect x="206.95" y="389.65" width="8.1" height="8.1" fill="none" stroke="#c00a32" stroke-width="1.5"/>
<path d="M201.5,396.5 L208.5,396.5 L211,399 L214.5,401.5 L215.5,403 L215.5,441.2 L205,441.2 L205,444.4 L194,444.4 L194,403 L195.5,401.5 L199,399 Z" fill="#cc0a30"/>
<rect x="195.6" y="404.5" width="1.2" height="8.5" fill="#fff"/>
<rect x="213.1" y="404.5" width="1.2" height="9" fill="#fff"/>
<rect x="195.6" y="421" width="1.2" height="5" fill="#fff"/>
<rect x="213.1" y="421" width="1.2" height="5" fill="#fff"/>
<rect x="195.6" y="433" width="1.2" height="7" fill="#fff"/>
<rect x="213.1" y="433" width="1.2" height="7" fill="#fff"/>
<rect x="194" y="429.6" width="4" height="0.9" fill="#fff"/>
<rect x="196" y="441.5" width="6" height="1.2" fill="#fff"/>
<path d="M286.5,400.5 L296.5,400.5 L296.8,406.5 L302.5,406.5 L302.5,417 L300.5,417.5 L300.5,420.5 L302.5,421 L302.5,441.5 L293.5,441.5 L293.5,444.3 L280.5,444.3 L280.5,421 L282.5,420.5 L282.5,417.5 L280.5,417 L280.5,406.5 L286.2,406.5 Z" fill="#cc0a30"/>
<rect x="282.1" y="409" width="1.2" height="7" fill="#fff"/>
<rect x="300.2" y="409" width="1.2" height="7" fill="#fff"/>
<rect x="282.1" y="422.5" width="1.2" height="6.5" fill="#fff"/>
<rect x="300.2" y="422.5" width="1.2" height="6.5" fill="#fff"/>
<rect x="282.1" y="435" width="1.2" height="5" fill="#fff"/>
<rect x="300.2" y="435" width="1.2" height="5" fill="#fff"/>
<rect x="288.8" y="403.6" width="5.5" height="1.1" fill="#fff"/>
<rect x="282.5" y="441.2" width="6.5" height="1.1" fill="#fff"/>
<rect x="296" y="437.5" width="4" height="1" fill="#fff"/>
<rect x="368.15" y="324.55" width="8.1" height="8.1" fill="none" stroke="#c00a32" stroke-width="1.5"/>
<rect x="380.65" y="321.95" width="8.1" height="8.1" fill="none" stroke="#c00a32" stroke-width="1.5"/>
<rect x="368.15" y="337.45" width="8.1" height="8.1" fill="none" stroke="#c00a32" stroke-width="1.5"/>
<rect x="380.65" y="333.95" width="8.1" height="8.1" fill="none" stroke="#c00a32" stroke-width="1.5"/>
<rect x="374.45" y="395.15" width="8.1" height="8.1" fill="none" stroke="#c00a32" stroke-width="1.5"/>
<rect x="374.45" y="408.75" width="8.1" height="8.1" fill="none" stroke="#c00a32" stroke-width="1.5"/>
<path d="M374,338.2 L383.1,338.2 L383.1,347 L385.5,349 L385.5,372 L384,382 L373,382 L371.5,372 L371.5,349 L374,347 Z" fill="#cc0a30"/>
<rect x="376.3" y="340.6" width="4.5" height="1.2" fill="#fff"/>
<rect x="376.3" y="344.8" width="4.5" height="1.2" fill="#fff"/>
<rect x="368.15" y="348.95" width="8.1" height="8.1" fill="none" stroke="#c00a32" stroke-width="1.5"/>
<rect x="368.15" y="353.45" width="8.1" height="8.1" fill="none" stroke="#c00a32" stroke-width="1.5"/>
<rect x="368.15" y="357.95" width="8.1" height="8.1" fill="none" stroke="#c00a32" stroke-width="1.5"/>
<rect x="368.15" y="362.95" width="8.1" height="8.1" fill="none" stroke="#c00a32" stroke-width="1.5"/>
<rect x="368.15" y="367.95" width="8.1" height="8.1" fill="none" stroke="#c00a32" stroke-width="1.5"/>
<rect x="368.15" y="372.95" width="8.1" height="8.1" fill="none" stroke="#c00a32" stroke-width="1.5"/>
<rect x="368.15" y="377.95" width="8.1" height="8.1" fill="none" stroke="#c00a32" stroke-width="1.5"/>
<rect x="368.15" y="382.95" width="8.1" height="8.1" fill="none" stroke="#c00a32" stroke-width="1.5"/>
<rect x="368.15" y="386.45" width="8.1" height="8.1" fill="none" stroke="#c00a32" stroke-width="1.5"/>
<rect x="380.75" y="347.95" width="8.1" height="8.1" fill="none" stroke="#c00a32" stroke-width="1.5"/>
<rect x="380.75" y="352.45" width="8.1" height="8.1" fill="none" stroke="#c00a32" stroke-width="1.5"/>
<rect x="380.75" y="356.95" width="8.1" height="8.1" fill="none" stroke="#c00a32" stroke-width="1.5"/>
<rect x="380.75" y="361.95" width="8.1" height="8.1" fill="none" stroke="#c00a32" stroke-width="1.5"/>
<rect x="380.75" y="366.95" width="8.1" height="8.1" fill="none" stroke="#c00a32" stroke-width="1.5"/>
<rect x="380.75" y="371.95" width="8.1" height="8.1" fill="none" stroke="#c00a32" stroke-width="1.5"/>
<rect x="380.75" y="376.95" width="8.1" height="8.1" fill="none" stroke="#c00a32" stroke-width="1.5"/>
<rect x="380.75" y="381.95" width="8.1" height="8.1" fill="none" stroke="#c00a32" stroke-width="1.5"/>
<rect x="380.75" y="386.45" width="8.1" height="8.1" fill="none" stroke="#c00a32" stroke-width="1.5"/>
<rect x="372.95" y="381.95" width="8.1" height="8.1" fill="none" stroke="#c00a32" stroke-width="1.5"/>
<rect x="375.95" y="383.95" width="8.1" height="8.1" fill="none" stroke="#c00a32" stroke-width="1.5"/>
<rect x="374.45" y="386.95" width="8.1" height="8.1" fill="none" stroke="#c00a32" stroke-width="1.5"/>
<rect x="371.95" y="375.95" width="8.1" height="8.1" fill="none" stroke="#c00a32" stroke-width="1.5"/>
<rect x="376.95" y="374.95" width="8.1" height="8.1" fill="none" stroke="#c00a32" stroke-width="1.5"/>
<path d="M455,398 L475.8,398 L475.8,418.4 L472.5,418.4 L472.5,421 L463,421 L463,426 L454.2,426 L454.2,398 Z" fill="#cc0a30"/>
<path d="M461,377.7 L472,377.7 L472.5,379.2 L475.8,379.2 L475.8,399 L454.2,399 L454.2,379.2 L460.5,379.2 Z" fill="#cc0a30"/>
<rect x="455.5" y="380.6" width="4.5" height="1.6" fill="#fff"/>
<rect x="467" y="380.6" width="7" height="1.6" fill="#fff"/>
<rect x="455.5" y="389.2" width="5" height="1.6" fill="#fff"/>
<rect x="463.5" y="389.2" width="8.5" height="1.6" fill="#fff"/>
<rect x="455.6" y="382.5" width="1.4" height="5.5" fill="#fff"/>
<rect x="473.9" y="382.5" width="1.4" height="5.5" fill="#fff"/>
<rect x="455.6" y="391.5" width="1.4" height="6.5" fill="#fff"/>
<rect x="473.9" y="391.5" width="1.4" height="5" fill="#fff"/>
<rect x="461.5" y="384" width="1.2" height="3.5" fill="#fff"/>
<rect x="467.5" y="384.5" width="1.2" height="3" fill="#fff"/>
<rect x="459" y="393.5" width="3" height="1.2" fill="#fff"/>
<rect x="466" y="394.5" width="4" height="1.2" fill="#fff"/>
<rect x="455.6" y="404" width="1.4" height="2.5" fill="#fff"/>
<rect x="455.6" y="410" width="1.4" height="7.5" fill="#fff"/>
<rect x="473.9" y="410" width="1.4" height="7.5" fill="#fff"/>
<rect x="472.5" y="402.5" width="2" height="2.5" fill="#fff"/>
<rect x="456" y="419.2" width="5" height="4.6" fill="#fff"/>
<rect x="459.25" y="371.45" width="8.1" height="8.1" fill="none" stroke="#c00a32" stroke-width="1.5"/>
<rect x="460.15" y="426.25" width="8.1" height="8.1" fill="none" stroke="#c00a32" stroke-width="1.5"/>
<rect x="467.65" y="426.25" width="8.1" height="8.1" fill="none" stroke="#c00a32" stroke-width="1.5"/>
<rect x="454.55" y="417.25" width="8.1" height="8.1" fill="none" stroke="#c00a32" stroke-width="1.5"/>
<line x1="60.5" y1="429.6" x2="89.1" y2="429.6" stroke="#111" stroke-width="1.7" stroke-linecap="butt"/>
<line x1="118.5" y1="424.2" x2="118.5" y2="434.9" stroke="#111" stroke-width="1.1" stroke-linecap="butt"/>
<line x1="113.5" y1="424.2" x2="123.5" y2="424.2" stroke="#111" stroke-width="1.1" stroke-linecap="butt"/>
<line x1="113.5" y1="434.9" x2="123.5" y2="434.9" stroke="#111" stroke-width="1.1" stroke-linecap="butt"/>
<line x1="104.3" y1="430.5" x2="132.7" y2="430.5" stroke="#111" stroke-width="1.7" stroke-linecap="butt"/>
<line x1="161.4" y1="403.8" x2="161.4" y2="424.5" stroke="#111" stroke-width="1.4" stroke-linecap="butt"/>
<line x1="157.20000000000002" y1="403.8" x2="165.6" y2="403.8" stroke="#111" stroke-width="1.4" stroke-linecap="butt"/>
<line x1="157.20000000000002" y1="424.5" x2="165.6" y2="424.5" stroke="#111" stroke-width="1.4" stroke-linecap="butt"/>
<line x1="147.20000000000002" y1="414.6" x2="175.6" y2="414.6" stroke="#111" stroke-width="1.7" stroke-linecap="butt"/>
<line x1="204.8" y1="404.6" x2="204.8" y2="429.3" stroke="#111" stroke-width="1.4" stroke-linecap="butt"/>
<line x1="197.8" y1="404.6" x2="211.8" y2="404.6" stroke="#111" stroke-width="1.4" stroke-linecap="butt"/>
<line x1="197.8" y1="429.3" x2="211.8" y2="429.3" stroke="#111" stroke-width="1.4" stroke-linecap="butt"/>
<line x1="190.60000000000002" y1="417.2" x2="219.0" y2="417.2" stroke="#111" stroke-width="1.7" stroke-linecap="butt"/>
<line x1="248.3" y1="416.3" x2="248.3" y2="427.9" stroke="#111" stroke-width="1.4" stroke-linecap="butt"/>
<line x1="243.3" y1="416.3" x2="253.3" y2="416.3" stroke="#111" stroke-width="1.4" stroke-linecap="butt"/>
<line x1="243.3" y1="427.9" x2="253.3" y2="427.9" stroke="#111" stroke-width="1.4" stroke-linecap="butt"/>
<line x1="234.5" y1="422.1" x2="262.1" y2="422.1" stroke="#111" stroke-width="1.7" stroke-linecap="butt"/>
<line x1="291.5" y1="410.5" x2="291.5" y2="428.2" stroke="#111" stroke-width="1.4" stroke-linecap="butt"/>
<line x1="284.0" y1="410.5" x2="299.0" y2="410.5" stroke="#111" stroke-width="1.4" stroke-linecap="butt"/>
<line x1="284.0" y1="428.2" x2="299.0" y2="428.2" stroke="#111" stroke-width="1.4" stroke-linecap="butt"/>
<line x1="277.1" y1="419.2" x2="305.9" y2="419.2" stroke="#111" stroke-width="1.7" stroke-linecap="butt"/>
<line x1="320.6" y1="361.4" x2="349.0" y2="361.4" stroke="#111" stroke-width="1.7" stroke-linecap="butt"/>
<line x1="364.2" y1="364.7" x2="392.59999999999997" y2="364.7" stroke="#111" stroke-width="1.7" stroke-linecap="butt"/>
<line x1="407.4" y1="394.8" x2="435.6" y2="394.8" stroke="#111" stroke-width="1.7" stroke-linecap="butt"/>
<line x1="451.1" y1="400.8" x2="478.9" y2="400.8" stroke="#111" stroke-width="1.7" stroke-linecap="butt"/>
<circle cx="448.2" cy="276.2" r="4.2" fill="none" stroke="#1a4478" stroke-width="1.6"/>
<text transform="translate(457.6,279.6) scale(1.13,1)" font-size="10.6" font-weight="400" text-anchor="start" fill="#1a1a1a" stroke="#1a1a1a" stroke-width="0.18">HD</text>
<rect x="444.1" y="290.1" width="8.2" height="8.2" fill="none" stroke="#c00a32" stroke-width="1.6"/>
<text transform="translate(457.0,297.7) scale(1.06,1)" font-size="10.6" font-weight="400" text-anchor="start" fill="#1a1a1a" stroke="#1a1a1a" stroke-width="0.18">JMML</text>
</svg>
</body></html>
